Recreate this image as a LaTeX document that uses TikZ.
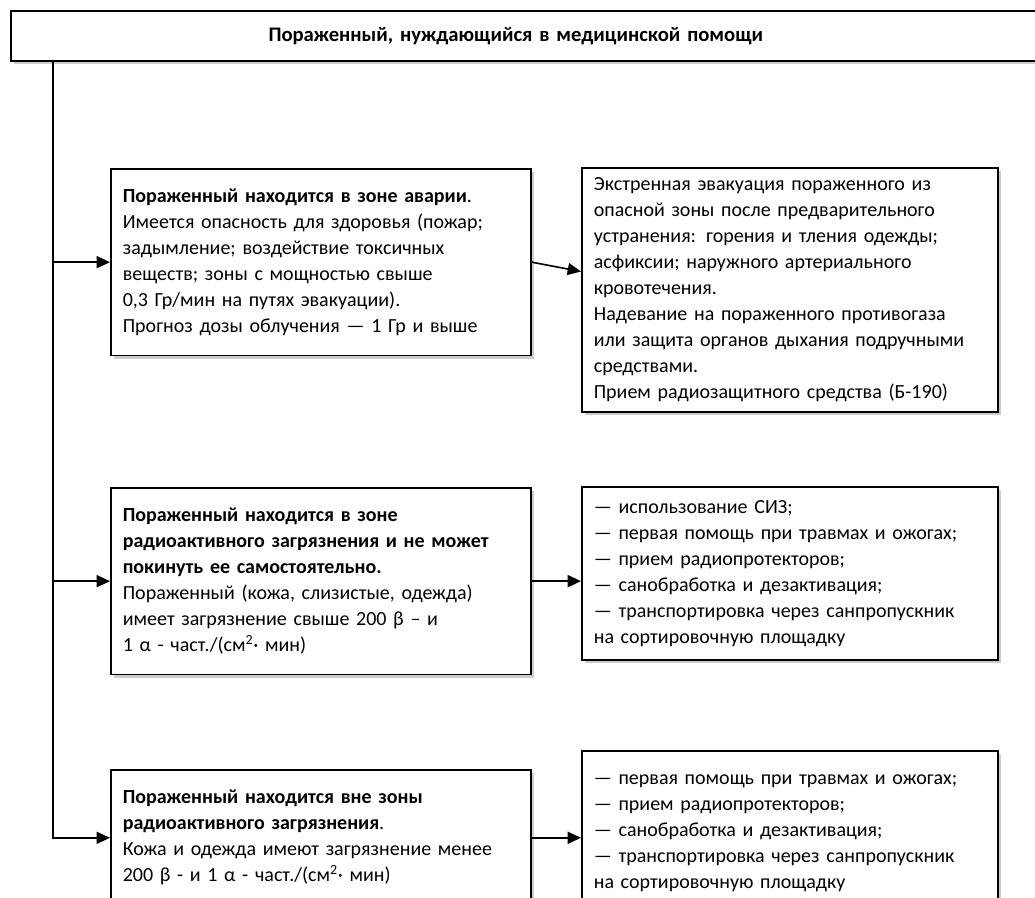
\documentclass[tikz,border=0pt]{standalone}
\usepackage{fontspec}
\setmainfont{Carlito}
\usetikzlibrary{arrows.meta, shadows}

\begin{document}
\begin{tikzpicture}[x=0.75pt, y=-0.75pt,
  font=\fontsize{15}{19.5}\selectfont,
  box/.style={draw, line width=1.2pt, fill=white, anchor=north west, align=left,
    inner xsep=9pt, inner ysep=0pt,
    drop shadow={shadow xshift=2.5pt, shadow yshift=-2.5pt, fill=black, opacity=0.2}},
  link/.style={line width=1.2pt, -{Triangle[length=10pt, width=9pt]}}]

% page
\useasboundingbox (0,0) rectangle (1035,897) ;
\clip (0,0) rectangle (1035,897) ;

% head (runs past the right edge)
\node[box, text width=754.5pt, minimum height=37.5pt, align=center,
  font=\fontsize{15.5}{19.5}\selectfont\bfseries] at (10,10) (head)
  {\hspace*{-15pt}Пораженный, нуждающийся в медицинской помощи};

% situations
\node[box, text width=297pt, minimum height=140pt] at (110,168) (sit1) {%
\textbf{Пораженный находится в зоне аварии}.\\
Имеется опасность для здоровья (пожар;\\
задымление; воздействие токсичных\\
веществ; зоны с мощностью свыше\\
0,3 Гр/мин на путях эвакуации).\\
Прогноз дозы облучения — 1 Гр и выше};

\node[box, text width=297pt, minimum height=140pt] at (110,487) (sit2) {%
\textbf{Пораженный находится в зоне}\\
\textbf{радиоактивного загрязнения и не может}\\
\textbf{покинуть ее самостоятельно.}\\
Пораженный (кожа, слизистые, одежда)\\
имеет загрязнение свыше 200 β – и\\
1 α - част./(см\textsuperscript{2}· мин)};

\node[box, text width=297pt, minimum height=102pt] at (110,769) (sit3) {%
\textbf{Пораженный находится вне зоны}\\
\textbf{радиоактивного загрязнения}.\\
Кожа и одежда имеют загрязнение менее\\
200 β - и 1 α - част./(см\textsuperscript{2}· мин)};

% actions
\node[box, text width=294pt, minimum height=183pt] at (581,167) (act1) {%
Экстренная эвакуация пораженного из\\
опасной зоны после предварительного\\
устранения: горения и тления одежды;\\
асфиксии; наружного артериального\\
кровотечения.\\
Надевание на пораженного противогаза\\
или защита органов дыхания подручными\\
средствами.\\
Прием радиозащитного средства (Б-190)};

\node[box, text width=294pt, minimum height=130pt] at (581,486) (act2) {%
— использование СИЗ;\\
— первая помощь при травмах и ожогах;\\
— прием радиопротекторов;\\
— санобработка и дезактивация;\\
— транспортировка через санпропускник\\
на сортировочную площадку};

\node[box, text width=294pt, minimum height=124pt] at (581,750) (act3) {%
— первая помощь при травмах и ожогах;\\
— прием радиопротекторов;\\
— санобработка и дезактивация;\\
— транспортировка через санпропускник\\
на сортировочную площадку};

% trunk
\coordinate (trunk) at (53,0) ;
\draw[link] (head.south -| trunk) |- (sit3.west) ;
\draw[link] (sit1.west -| trunk) -- (sit1.west) ;
\draw[link] (sit2.west -| trunk) -- (sit2.west) ;

% situation to action
\draw[link] (sit1.east) -- (act1.175) ;
\draw[link] (sit2.east) -- (sit2.east -| act2.west) ;
\draw[link] (sit3.east) -- (sit3.east -| act3.west) ;

\end{tikzpicture}
\end{document}
